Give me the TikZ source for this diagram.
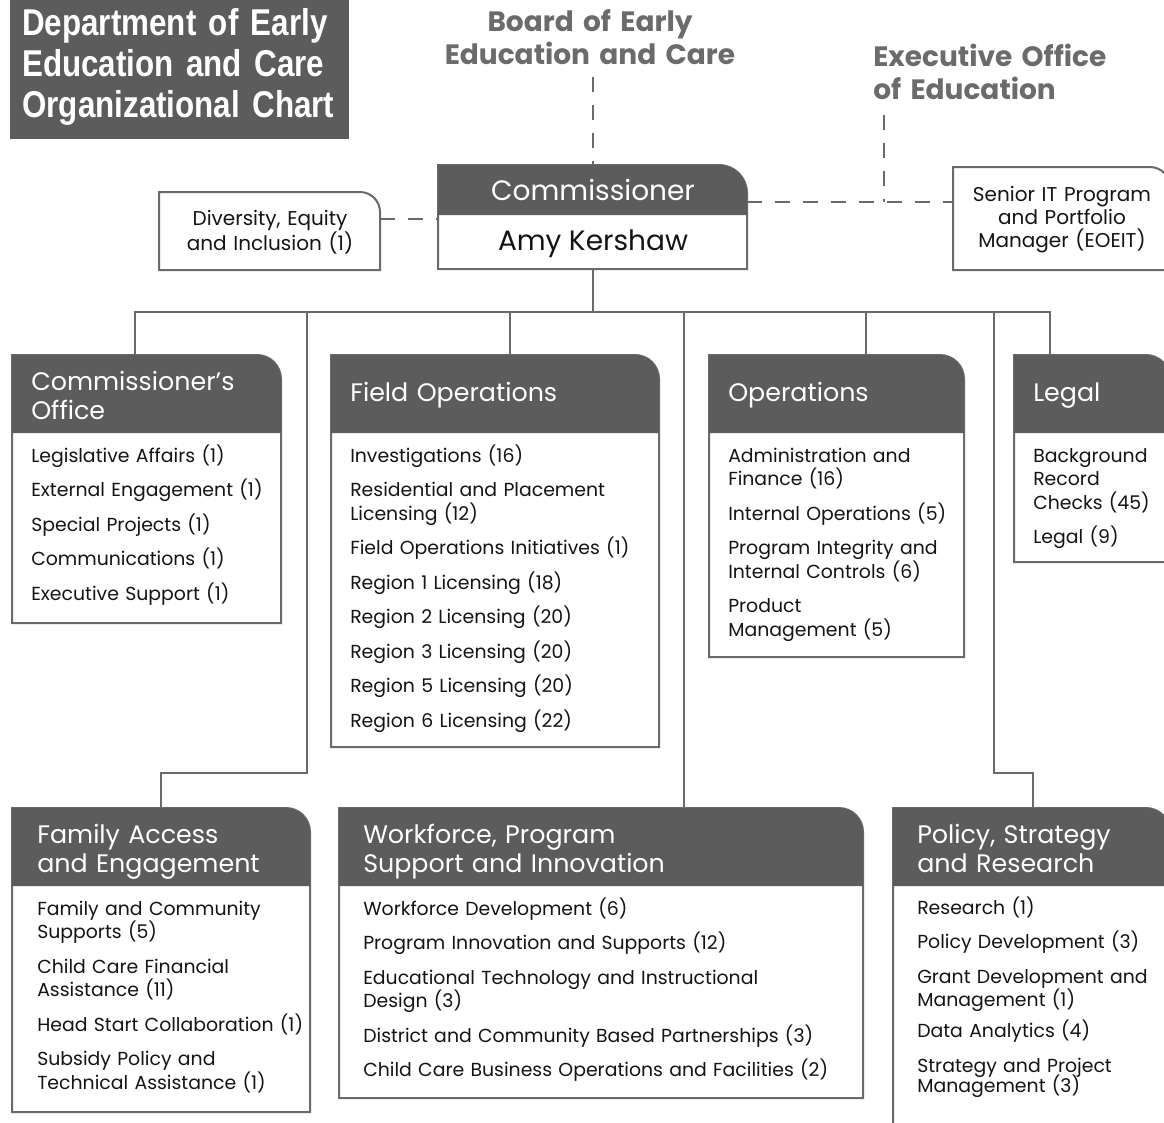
\documentclass[tikz,border=0pt]{standalone}
\usepackage{fontspec}
\setmainfont{Poppins}
\newfontfamily\titlefont[FakeStretch=0.84]{Liberation Sans}
\usetikzlibrary{calc}

\definecolor{hdrfill}{HTML}{5C5C5C}
\definecolor{edgegray}{HTML}{6A6A6A}
\definecolor{capgray}{HTML}{6B6B6B}
\definecolor{ink}{HTML}{141414}

\tikzset{
  conn/.style={draw=edgegray, line width=1.3pt},
  dashline/.style={draw=edgegray, line width=1.1pt, dash pattern=on 11pt off 10pt},
  frameline/.style={draw=edgegray, line width=1.5pt, fill=white},
  headfill/.style={fill=hdrfill},
  headtext/.style={anchor=base west, inner sep=0pt, text=white, align=left,
    text width=330pt, font=\fontsize{19}{21.75}\selectfont},
  listtext/.style={anchor=base west, inner sep=0pt, text=ink, align=left,
    text width=380pt, font=\fontsize{14.15}{17.6}\selectfont},
  smallbox/.style={anchor=base, inner sep=0pt, text=ink, align=center,
    text width=200pt, font=\fontsize{15}{17.6}\selectfont},
  toplabel/.style={inner sep=0pt, text=capgray, text width=320pt,
    font=\bfseries\fontsize{21}{24.75}\selectfont},
  chieftext/.style={anchor=base, inner sep=0pt, font=\fontsize{21}{22}\selectfont},
}

% unit box: name, left, top, right, bottom, header bottom, corner radius (px)
\newcommand\orgbox[7]{%
  \draw[frameline] (#2,#5) -- (#2,#3) -- ({#4-#7},#3)
    arc[start angle=90, end angle=0, radius={#7*0.75pt}] -- (#4,#5) -- cycle;
  \fill[headfill] (#2,#6) -- (#2,#3) -- ({#4-#7},#3)
    arc[start angle=90, end angle=0, radius={#7*0.75pt}] -- (#4,#6) -- cycle;
}
% plain box: left, top, right, bottom, corner radius (px)
\newcommand\plainbox[5]{%
  \draw[frameline] (#1,#4) -- (#1,#2) -- ({#3-#5},#2)
    arc[start angle=90, end angle=0, radius={#5*0.75pt}] -- (#3,#4) -- cycle;
}
\newcommand\gap{\\[8.25pt]}

\begin{document}
\begin{tikzpicture}[x=0.75pt, y=-0.75pt]
\useasboundingbox (0,0) rectangle (1164,1122);
\fill[white] (0,0) rectangle (1164,1122);
\clip (0,0) rectangle (1164,1122);

% ---------- heading block ----------
\fill[hdrfill] (10,0) rectangle (349,139);
\node[anchor=base west, inner sep=0pt, text=white, align=left, text width=330pt,
  font=\titlefont\bfseries\fontsize{28}{30.75}\selectfont] (title) at (22,35.5)
  {Department of Early\\Education and Care\\Organizational Chart};

\node[toplabel, anchor=base, align=center] (board) at (590,31)
  {Board of Early\\Education and Care};
\node[toplabel, anchor=base west, align=left] (eoe) at (873,66)
  {Executive Office\\of Education};

% ---------- anchor points ----------
\coordinate (board-foot) at (593,77);
\coordinate (eoe-foot) at (884,115);
\coordinate (comm-n) at (593,165);
\coordinate (comm-s) at (593,269);
\coordinate (comm-w) at (438,219);
\coordinate (comm-e) at (747,202);
\coordinate (dei-e) at (380,219);
\coordinate (it-w) at (953,202);
\coordinate (bus) at (593,312);
\coordinate (co-n) at (135,355);
\coordinate (fo-n) at (510,355);
\coordinate (op-n) at (866,355);
\coordinate (lg-n) at (1050,355);
\coordinate (fa-n) at (161,808);
\coordinate (wf-n) at (684,808);
\coordinate (ps-n) at (1033,808);
\coordinate (fa-bend) at (307,773);
\coordinate (ps-bend) at (994,773);

% ---------- connectors ----------
\draw[dashline] (board-foot) -- (comm-n);
\draw[dashline] (dei-e) -- (comm-w);
\draw[dashline] (comm-e) -- (it-w);
\draw[dashline] (eoe-foot) -- (eoe-foot |- it-w);

\draw[conn] (comm-s) -- (bus);
\draw[conn] (co-n) |- (lg-n |- bus) -- (lg-n);
\draw[conn] (fo-n) -- (fo-n |- bus);
\draw[conn] (op-n) -- (op-n |- bus);
\draw[conn] (wf-n) -- (wf-n |- bus);
\draw[conn] (fa-n) |- (fa-bend) -- (fa-bend |- bus);
\draw[conn] (ps-n) |- (ps-bend) -- (ps-bend |- bus);

% ---------- commissioner and staff boxes ----------
\orgbox{comm}{438}{165}{747}{269}{215}{28}
\node[chieftext, text=white] (comm-title) at (593,200) {Commissioner};
\node[chieftext, text=ink] (comm-name) at (593,250) {Amy Kershaw};

\plainbox{159}{192}{380}{270}{20}
\node[smallbox] (dei) at (270,225.5) {Diversity, Equity\\and Inclusion (1)};

\plainbox{953}{167}{1170}{270}{20}
\node[smallbox, font=\fontsize{15}{17.25}\selectfont] (it) at (1062,201.5)
  {Senior IT Program\\and Portfolio\\Manager (EOEIT)};

% ---------- first row of units ----------
\orgbox{co}{12}{355}{281}{623}{433}{24}
\node[headtext] (co-head) at (31,390.5) {Commissioner’s\\Office};
\node[listtext] (co-list) at (31,462.5)
  {Legislative Affairs (1)\gap External Engagement (1)\gap Special Projects (1)\gap
   Communications (1)\gap Executive Support (1)};

\orgbox{fo}{331}{355}{659}{747}{433}{24}
\node[headtext] (fo-head) at (350,401.5) {Field Operations};
\node[listtext] (fo-list) at (350,462.5)
  {Investigations (16)\gap Residential and Placement\\Licensing (12)\gap
   Field Operations Initiatives (1)\gap Region 1 Licensing (18)\gap
   Region 2 Licensing (20)\gap Region 3 Licensing (20)\gap
   Region 5 Licensing (20)\gap Region 6 Licensing (22)};

\orgbox{op}{709}{355}{964}{657}{433}{24}
\node[headtext] (op-head) at (728,401.5) {Operations};
\node[listtext] (op-list) at (728,462.5)
  {Administration and\\Finance (16)\gap Internal Operations (5)\gap
   Program Integrity and\\Internal Controls (6)\gap Product\\Management (5)};

\orgbox{lg}{1014}{355}{1170}{562}{433}{24}
\node[headtext] (lg-head) at (1033,401.5) {Legal};
\node[listtext] (lg-list) at (1033,462.5)
  {Background\\Record\\Checks (45)\gap Legal (9)};

% ---------- second row of units ----------
\orgbox{fa}{12}{808}{310}{1112}{886}{24}
\node[headtext] (fa-head) at (37,843.5) {Family Access\\and Engagement};
\node[listtext] (fa-list) at (37,915.5)
  {Family and Community\\Supports (5)\gap Child Care Financial\\Assistance (11)\gap
   Head Start Collaboration (1)\gap Subsidy Policy and\\Technical Assistance (1)};

\orgbox{wf}{339}{808}{863}{1098}{886}{24}
\node[headtext] (wf-head) at (363,843.5) {Workforce, Program\\Support and Innovation};
\node[listtext] (wf-list) at (363,915.5)
  {Workforce Development (6)\gap Program Innovation and Supports (12)\gap
   Educational Technology and Instructional\\Design (3)\gap
   District and Community Based Partnerships (3)\gap
   Child Care Business Operations and Facilities (2)};

\orgbox{ps}{893}{808}{1170}{1140}{886}{24}
\node[headtext] (ps-head) at (917,843.5) {Policy, Strategy\\and Research};
\node[listtext] (ps-list) at (917,914.5)
  {Research (1)\gap Policy Development (3)\gap Grant Development and\\Management (1)\\[5.6pt]
   Data Analytics (4)\gap Strategy and Project\\[-2.5pt]Management (3)};
\end{tikzpicture}
\end{document}
